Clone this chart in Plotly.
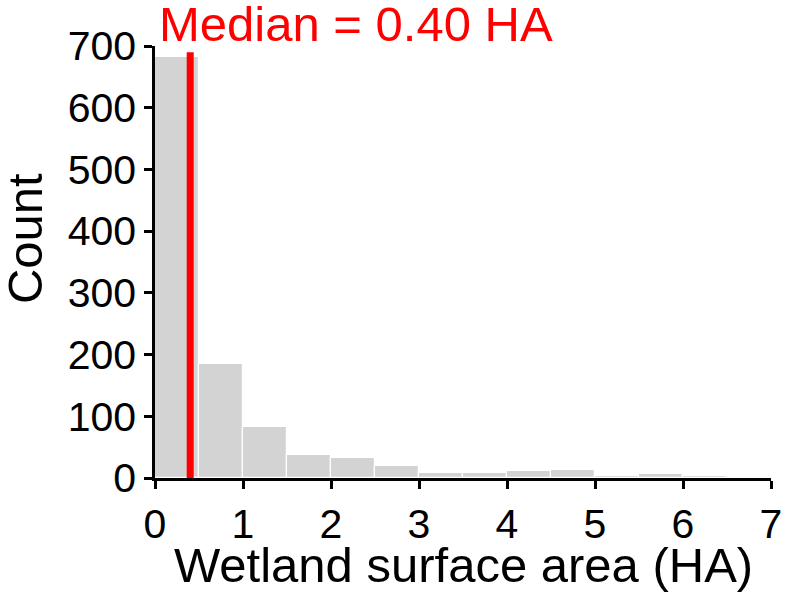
import plotly.graph_objects as go

bin_starts = [0.0, 0.5, 1.0, 1.5, 2.0, 2.5, 3.0, 3.5, 4.0, 4.5, 5.0, 5.5, 6.0, 6.5]
counts = [682, 184, 82, 38, 33, 20, 8, 8, 11, 13, 4, 6, 4, 2]
bin_width = 0.5
median_value = 0.40
median_line_top = 690
x_ticks = [0, 1, 2, 3, 4, 5, 6, 7]
y_ticks = [0, 100, 200, 300, 400, 500, 600, 700]

FONT = "Liberation Sans, Arial, sans-serif"

fig = go.Figure()
fig.add_trace(go.Bar(
    x=[s + bin_width / 2 for s in bin_starts],
    y=counts,
    width=bin_width,
    marker=dict(color="#d3d3d3", line=dict(color="white", width=1.2)),
    showlegend=False,
    hoverinfo="x+y",
))
fig.add_trace(go.Scatter(
    x=[median_value, median_value],
    y=[0, median_line_top],
    mode="lines",
    line=dict(color="red", width=7),
    showlegend=False,
    hoverinfo="skip",
))

fig.add_annotation(
    text=f"Median = {median_value:.2f} HA",
    xref="paper", yref="paper",
    x=0.0, y=1.0, xanchor="left", yanchor="bottom",
    xshift=2, yshift=-7,
    showarrow=False,
    font=dict(family=FONT, size=49, color="red"),
)
fig.add_annotation(
    text="Wetland surface area (HA)",
    xref="paper", yref="paper",
    x=0.5, y=0.0, xanchor="center", yanchor="middle",
    yshift=-87,
    showarrow=False,
    font=dict(family=FONT, size=49, color="black"),
)
fig.add_annotation(
    text="Count",
    xref="paper", yref="paper",
    x=0.0, y=0.553, xanchor="center", yanchor="middle",
    xshift=-130, textangle=-90,
    showarrow=False,
    font=dict(family=FONT, size=49, color="black"),
)

fig.update_layout(
    width=785, height=594,
    margin=dict(l=155, r=14, t=46, b=116),
    plot_bgcolor="white", paper_bgcolor="white",
    font=dict(family=FONT, color="black"),
    bargap=0,
)
fig.update_xaxes(
    range=[0, 7],
    tickvals=x_ticks,
    ticks="outside", ticklen=8, tickwidth=2.5, tickcolor="black",
    showline=True, linecolor="black", linewidth=2.5,
    showgrid=False, zeroline=False, automargin=False,
    tickfont=dict(family=FONT, size=41, color="black"),
)
fig.update_yaxes(
    range=[0, 700],
    tickvals=y_ticks,
    ticks="outside", ticklen=8, tickwidth=2.5, tickcolor="black",
    showline=True, linecolor="black", linewidth=2.5,
    showgrid=False, zeroline=False, automargin=False,
    tickfont=dict(family=FONT, size=41, color="black"),
)

fig.write_html(
    "out.html",
    config={"displayModeBar": False},
    post_script="document.body.style.margin='0';document.body.style.padding='0';",
)
